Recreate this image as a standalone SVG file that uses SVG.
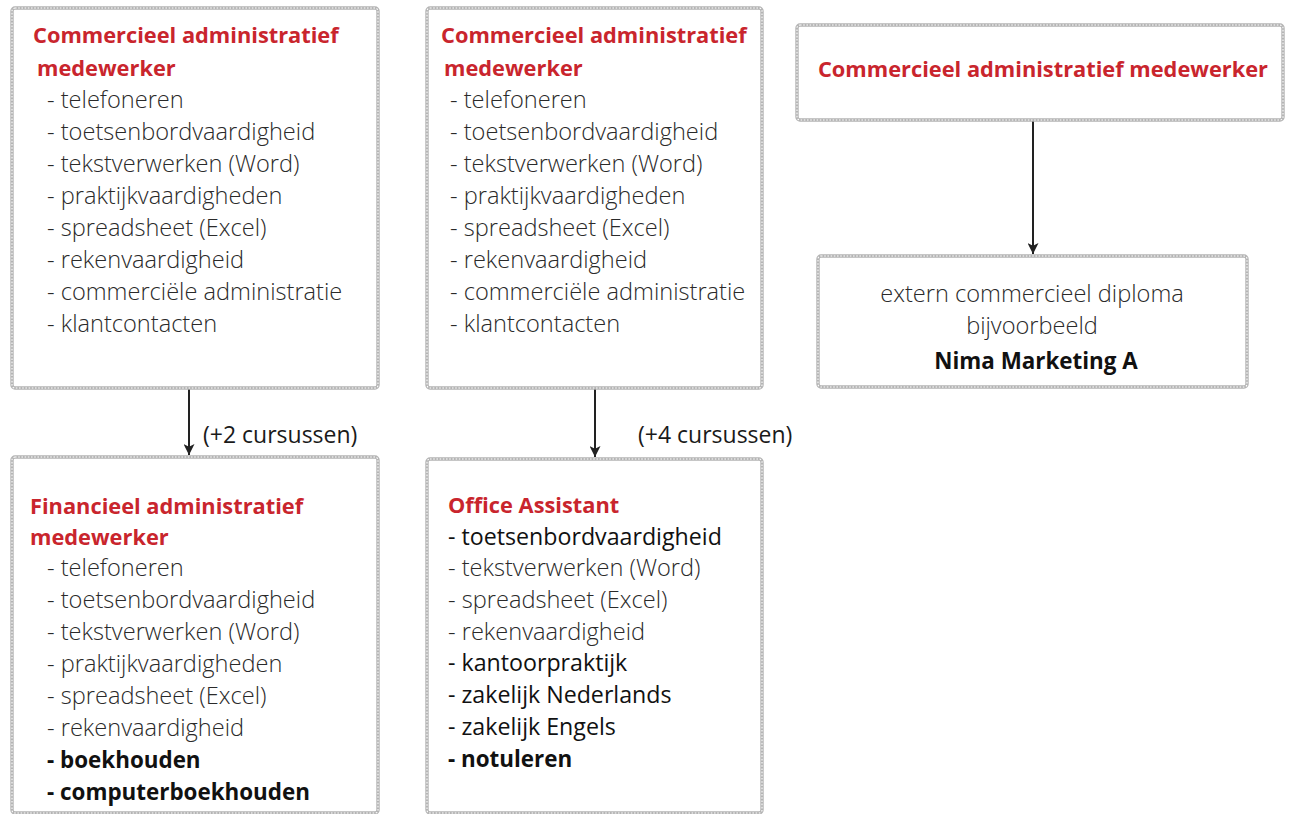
<svg xmlns="http://www.w3.org/2000/svg" width="1289" height="814" viewBox="0 0 1289 814">
<defs>
<marker id="ah" viewBox="0 0 10 10" refX="10" refY="5" markerWidth="5.5" markerHeight="5.5" orient="auto" markerUnits="strokeWidth">
<path d="M0,0 L10,5 L0,10 L2.5,5 Z" fill="#222"/>
</marker>
</defs>
<style>
.b1{fill:#fff;stroke:#b4b4b4;stroke-width:3.4}
.b2{fill:none;stroke:#fff;stroke-width:1.1;stroke-dasharray:1.6 1.6}
text{font-family:"Open Sans",Lato,"Liberation Sans",sans-serif}
.t{fill:#c9252d;font-weight:700;font-size:21.8px}
.l{fill:#2a2a2a;font-weight:300;font-size:23.6px}
.r{fill:#111;font-weight:400;font-size:23.2px}
.bd{fill:#111;font-weight:700;font-size:22.4px}
.c{text-anchor:middle}
.lab{fill:#1a1a1a;font-size:23px;font-weight:400}
.cn{stroke:#222;stroke-width:2;fill:none;marker-end:url(#ah)}
</style>
<rect width="1289" height="814" fill="#fff"/>
<g id="connectors">
<path class="cn" d="M189,389 V455"/>
<path class="cn" d="M595,389 V457"/>
<path class="cn" d="M1033,121 V254"/>
<text class="lab" x="203" y="443">(+2 cursussen)</text>
<text class="lab" x="638" y="443">(+4 cursussen)</text>
</g>
<g id="node1">
<rect class="b1" x="12" y="8" width="366" height="380" rx="3"/>
<rect class="b2" x="12" y="8" width="366" height="380" rx="3"/>
<text class="t" x="33" y="43">Commercieel administratief</text>
<text class="t" x="37" y="76">medewerker</text>
<text class="l" x="47" y="108">- telefoneren</text>
<text class="l" x="47" y="140">- toetsenbordvaardigheid</text>
<text class="l" x="47" y="172">- tekstverwerken (Word)</text>
<text class="l" x="47" y="204">- praktijkvaardigheden</text>
<text class="l" x="47" y="236">- spreadsheet (Excel)</text>
<text class="l" x="47" y="268">- rekenvaardigheid</text>
<text class="l" x="47" y="300">- commerciële administratie</text>
<text class="l" x="47" y="332">- klantcontacten</text>
</g>
<g id="node2">
<rect class="b1" x="427" y="8" width="335" height="380" rx="3"/>
<rect class="b2" x="427" y="8" width="335" height="380" rx="3"/>
<text class="t" x="441" y="43">Commercieel administratief</text>
<text class="t" x="444" y="76">medewerker</text>
<text class="l" x="450" y="108">- telefoneren</text>
<text class="l" x="450" y="140">- toetsenbordvaardigheid</text>
<text class="l" x="450" y="172">- tekstverwerken (Word)</text>
<text class="l" x="450" y="204">- praktijkvaardigheden</text>
<text class="l" x="450" y="236">- spreadsheet (Excel)</text>
<text class="l" x="450" y="268">- rekenvaardigheid</text>
<text class="l" x="450" y="300">- commerciële administratie</text>
<text class="l" x="450" y="332">- klantcontacten</text>
</g>
<g id="node3">
<rect class="b1" x="797" y="25" width="486" height="95" rx="3"/>
<rect class="b2" x="797" y="25" width="486" height="95" rx="3"/>
<text class="t c" x="1043" y="77">Commercieel administratief medewerker</text>
</g>
<g id="node6">
<rect class="b1" x="818" y="256" width="429" height="131" rx="3"/>
<rect class="b2" x="818" y="256" width="429" height="131" rx="3"/>
<text class="l c" x="1032" y="302">extern commercieel diploma</text>
<text class="l c" x="1032" y="334">bijvoorbeeld</text>
<text class="bd c" x="1036" y="369">Nima Marketing A</text>
</g>
<g id="node4">
<rect class="b1" x="12" y="457" width="366" height="356" rx="3"/>
<rect class="b2" x="12" y="457" width="366" height="356" rx="3"/>
<text class="t" x="30" y="514">Financieel administratief</text>
<text class="t" x="30" y="545">medewerker</text>
<text class="l" x="47" y="576">- telefoneren</text>
<text class="l" x="47" y="608">- toetsenbordvaardigheid</text>
<text class="l" x="47" y="640">- tekstverwerken (Word)</text>
<text class="l" x="47" y="672">- praktijkvaardigheden</text>
<text class="l" x="47" y="704">- spreadsheet (Excel)</text>
<text class="l" x="47" y="736">- rekenvaardigheid</text>
<text class="bd" x="47" y="768">- boekhouden</text>
<text class="bd" x="47" y="800">- computerboekhouden</text>
</g>
<g id="node5">
<rect class="b1" x="427" y="459" width="335" height="354" rx="3"/>
<rect class="b2" x="427" y="459" width="335" height="354" rx="3"/>
<text class="t" x="448" y="513">Office Assistant</text>
<text class="r" x="448" y="545">- toetsenbordvaardigheid</text>
<text class="l" x="448" y="576">- tekstverwerken (Word)</text>
<text class="l" x="448" y="608">- spreadsheet (Excel)</text>
<text class="l" x="448" y="640">- rekenvaardigheid</text>
<text class="r" x="448" y="671">- kantoorpraktijk</text>
<text class="r" x="448" y="703">- zakelijk Nederlands</text>
<text class="r" x="448" y="735">- zakelijk Engels</text>
<text class="bd" x="448" y="767">- notuleren</text>
</g>
</svg>
